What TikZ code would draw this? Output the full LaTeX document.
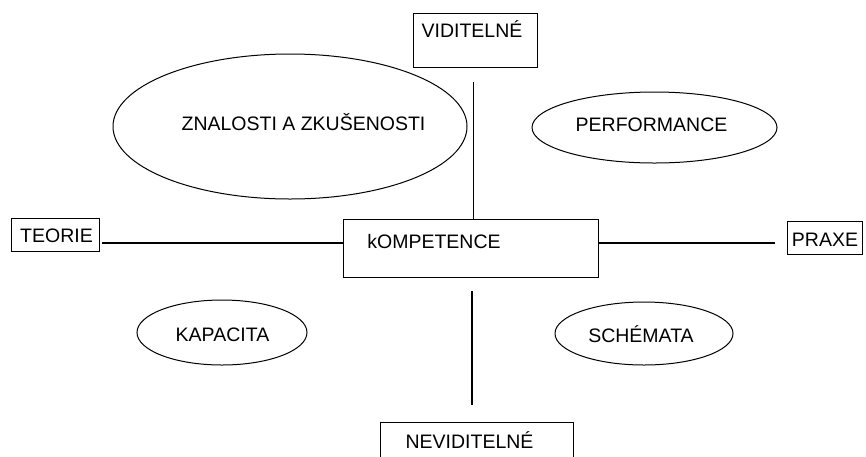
\documentclass[tikz,border=0pt]{standalone}
\usepackage{fontspec}
\setmainfont{Liberation Sans}
\usetikzlibrary{shapes.geometric}
\begin{document}
\begin{tikzpicture}[x=1pt,y=-1pt,
  box/.style={draw, line width=1.1pt, inner sep=0pt, anchor=north west},
  oval/.style={draw, ellipse, line width=1pt, inner sep=0pt},
  lbl/.style={anchor=base, inner sep=0pt, font=\fontsize{19.5}{23}\selectfont},
  conn/.style={line width=1.2pt}]
\clip (0,0) rectangle (866,456);
\fill[white] (0,0) rectangle (866,456);
% boxes
\node[box, minimum width=124pt, minimum height=54pt] (vid) at (413,13) {};
\node[box, minimum width=88pt, minimum height=33pt] (teo) at (11,218) {};
\node[box, minimum width=255pt, minimum height=58pt] (komp) at (343,219) {};
\node[box, minimum width=75pt, minimum height=33pt] (pra) at (787,221) {};
\node[box, minimum width=193pt, minimum height=48pt] (nev) at (380,422) {};
% ellipses
\node[oval, minimum width=354pt, minimum height=145pt] (zna) at (290,126.5) {};
\node[oval, minimum width=245pt, minimum height=71pt] (perf) at (654.5,127.5) {};
\node[oval, minimum width=170pt, minimum height=65pt] (kap) at (222,332.5) {};
\node[oval, minimum width=178pt, minimum height=63pt] (sch) at (644,333.5) {};
% texts
\node[lbl] (vidt) at (472,37) {VIDITELNÉ};
\node[lbl] (teot) at (56.5,242) {TEORIE};
\node[lbl] (kompt) at (434,248) {kOMPETENCE};
\node[lbl] (prat) at (825,246) {PRAXE};
\node[lbl] (nevt) at (469.5,448) {NEVIDITELNÉ};
\node[lbl] (znat) at (303.5,130) {ZNALOSTI A ZKUŠENOSTI};
\node[lbl] (perft) at (651.5,131.5) {PERFORMANCE};
\node[lbl] (kapt) at (222.5,341) {KAPACITA};
\node[lbl] (scht) at (641,342) {SCHÉMATA};
% connectors
\coordinate (vt) at (473.5,82);
\draw[conn] (vt) -- (vt |- komp.north);
\coordinate (nt) at (472,291);
\coordinate (nb) at (472,405);
\draw[conn] (nt) -- (nb);
\coordinate (hl) at (102,243);
\draw[conn] (hl) -- (hl -| komp.west);
\coordinate (hr) at (775,243);
\draw[conn] (komp.east |- hr) -- (hr);
\end{tikzpicture}
\end{document}
